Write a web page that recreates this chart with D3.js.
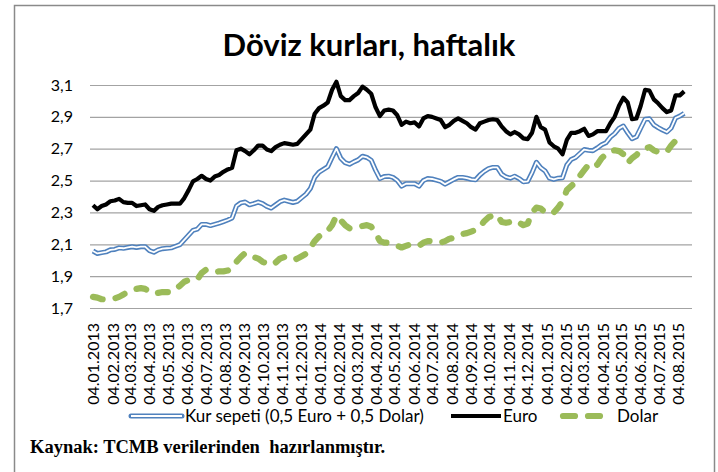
<!DOCTYPE html>
<html>
<head>
<meta charset="utf-8">
<script src="https://cdn.jsdelivr.net/npm/d3@7"></script>
<style>
  body { margin: 0; background: #fff; }
  svg text { font-family: Lato, "Open Sans", sans-serif; fill: #000; }
</style>
</head>
<body>
<script>
// weekly data, 04.01.2013 - 14.08.2015 (Fridays)
const firstWeek = "04.01.2013", lastWeek = "14.08.2015";

const tickLabels = ["04.01.2013", "04.02.2013", "04.03.2013", "04.04.2013", "04.05.2013", "04.06.2013",
  "04.07.2013", "04.08.2013", "04.09.2013", "04.10.2013", "04.11.2013", "04.12.2013",
  "04.01.2014", "04.02.2014", "04.03.2014", "04.04.2014", "04.05.2014", "04.06.2014",
  "04.07.2014", "04.08.2014", "04.09.2014", "04.10.2014", "04.11.2014", "04.12.2014",
  "04.01.2015", "04.02.2015", "04.03.2015", "04.04.2015", "04.05.2015", "04.06.2015",
  "04.07.2015", "04.08.2015"];

const yTicks = [1.7, 1.9, 2.1, 2.3, 2.5, 2.7, 2.9, 3.1];

const euro = [2.345, 2.32, 2.34, 2.35, 2.37, 2.375, 2.385, 2.365, 2.36, 2.36, 2.34, 2.345, 2.35, 2.32, 2.31,
  2.335, 2.345, 2.35, 2.355, 2.355, 2.355, 2.39, 2.44, 2.495, 2.51, 2.53, 2.51, 2.50, 2.525, 2.535,
  2.555, 2.57, 2.58, 2.69, 2.70, 2.685, 2.665, 2.69, 2.72, 2.72, 2.695, 2.685, 2.71, 2.725, 2.735,
  2.73, 2.725, 2.73, 2.76, 2.79, 2.82, 2.92, 2.955, 2.97, 2.99, 3.07, 3.12, 3.03, 3.005, 3.005,
  3.03, 3.05, 3.09, 3.07, 3.045, 2.96, 2.905, 2.94, 2.945, 2.94, 2.91, 2.85, 2.87, 2.86, 2.865,
  2.84, 2.89, 2.905, 2.90, 2.89, 2.88, 2.835, 2.85, 2.875, 2.89, 2.875, 2.86, 2.835, 2.82, 2.86,
  2.87, 2.88, 2.885, 2.88, 2.84, 2.81, 2.79, 2.805, 2.79, 2.765, 2.76, 2.80, 2.90, 2.835, 2.82,
  2.74, 2.715, 2.70, 2.665, 2.755, 2.80, 2.80, 2.81, 2.825, 2.78, 2.79, 2.81, 2.81, 2.81, 2.86,
  2.90, 2.97, 3.02, 2.99, 2.885, 2.89, 2.97, 3.07, 3.065, 3.01, 2.985, 2.955, 2.93, 2.94, 3.035,
  3.035, 3.06];

const dolar = [1.77, 1.765, 1.755, 1.755, 1.76, 1.76, 1.77, 1.785, 1.80, 1.81, 1.82, 1.825, 1.82, 1.80, 1.79,
  1.795, 1.80, 1.80, 1.80, 1.82, 1.84, 1.865, 1.875, 1.88, 1.88, 1.92, 1.94, 1.935, 1.925, 1.93,
  1.93, 1.935, 1.95, 1.99, 2.02, 2.045, 2.03, 2.02, 2.01, 1.99, 1.98, 1.97, 1.985, 2.01, 2.02,
  2.01, 2.00, 2.01, 2.025, 2.04, 2.08, 2.12, 2.15, 2.17, 2.185, 2.22, 2.28, 2.25, 2.22, 2.20,
  2.205, 2.21, 2.215, 2.22, 2.21, 2.17, 2.12, 2.11, 2.11, 2.10, 2.09, 2.08, 2.09, 2.10, 2.095,
  2.09, 2.11, 2.12, 2.12, 2.115, 2.11, 2.12, 2.135, 2.14, 2.15, 2.165, 2.17, 2.18, 2.19, 2.21,
  2.245, 2.27, 2.28, 2.285, 2.24, 2.235, 2.24, 2.25, 2.235, 2.22, 2.23, 2.30, 2.33, 2.325, 2.30,
  2.29, 2.30, 2.33, 2.37, 2.44, 2.465, 2.49, 2.53, 2.565, 2.60, 2.585, 2.60, 2.64, 2.665, 2.685,
  2.69, 2.685, 2.665, 2.61, 2.64, 2.66, 2.69, 2.70, 2.71, 2.69, 2.68, 2.68, 2.68, 2.72, 2.75,
  2.775, 2.785];

// Kur sepeti (0,5 Euro + 0,5 Dolar)
const sepet = [2.0575, 2.0425, 2.0475, 2.0525, 2.065, 2.0675, 2.0775, 2.075, 2.08, 2.085, 2.08, 2.085, 2.085, 2.06, 2.05,
  2.065, 2.0725, 2.075, 2.0775, 2.0875, 2.0975, 2.1275, 2.1575, 2.1875, 2.195, 2.225, 2.225, 2.2175, 2.225, 2.2325,
  2.2425, 2.2525, 2.265, 2.34, 2.36, 2.365, 2.3475, 2.355, 2.365, 2.355, 2.3375, 2.3275, 2.3475, 2.3675, 2.3775,
  2.37, 2.3625, 2.37, 2.3925, 2.415, 2.45, 2.52, 2.5525, 2.57, 2.5875, 2.645, 2.70, 2.64, 2.6125, 2.6025,
  2.6175, 2.63, 2.6525, 2.645, 2.6275, 2.565, 2.5125, 2.525, 2.5275, 2.52, 2.50, 2.465, 2.48, 2.48, 2.48,
  2.465, 2.50, 2.5125, 2.51, 2.5025, 2.495, 2.4775, 2.4925, 2.5075, 2.52, 2.52, 2.515, 2.5075, 2.505, 2.535,
  2.5575, 2.575, 2.5825, 2.5825, 2.54, 2.5225, 2.515, 2.5275, 2.5125, 2.4925, 2.495, 2.55, 2.615, 2.58, 2.56,
  2.515, 2.5075, 2.515, 2.5175, 2.5975, 2.6325, 2.645, 2.67, 2.695, 2.69, 2.6875, 2.705, 2.725, 2.7375, 2.7725,
  2.795, 2.8275, 2.8425, 2.80, 2.7625, 2.775, 2.83, 2.885, 2.8875, 2.85, 2.8325, 2.8175, 2.805, 2.83, 2.8925,
  2.905, 2.9225];

const seriesNames = ["Kur sepeti (0,5 Euro + 0,5 Dolar)", "Euro", "Dolar"];

// layout
const W = 718, H = 472;
const plot = { left: 90, right: 692, top: 85, bottom: 308 };

const parse = d3.timeParse("%d.%m.%Y");
const weeks = d3.timeFriday.range(parse(firstWeek), d3.timeDay.offset(parse(lastWeek), 1));

const svg = d3.select("body").append("svg")
  .attr("width", W)
  .attr("height", H);

// frame
svg.append("rect")
  .attr("x", 14.5).attr("y", 5.5)
  .attr("width", 700).attr("height", 490)
  .attr("fill", "none")
  .attr("stroke", "#8a8a8a")
  .attr("stroke-width", 1.5);

svg.append("text")
  .attr("x", 369).attr("y", 56)
  .attr("text-anchor", "middle")
  .style("font-size", "31px")
  .style("font-weight", "bold")
  .text("Döviz kurları, haftalık");

/* scales */
const x = d3.scaleTime()
  .domain([parse(tickLabels[0]), parse(tickLabels[tickLabels.length - 1])])
  .range([93, 678]);
const y = d3.scaleLinear().domain([1.7, 3.1]).range([plot.bottom, plot.top]);

const tr = d3.formatLocale({ decimal: ",", thousands: ".", grouping: [3], currency: ["", " TL"] });

// y axis + grid
const yAxis = svg.append("g")
  .attr("transform", `translate(${plot.left},0)`)
  .call(d3.axisLeft(y)
    .tickValues(yTicks)
    .tickSize(-(plot.right - plot.left))
    .tickPadding(17)
    .tickFormat(tr.format(".1f")));
yAxis.select(".domain").remove();
yAxis.selectAll(".tick line").attr("stroke", "#a3a3a3").attr("stroke-width", 1.2);
yAxis.selectAll(".tick text").style("font-size", "16px").attr("fill", "#000");

// x axis labels (rotated)
const xAxis = svg.append("g")
  .attr("transform", `translate(0,${plot.bottom})`)
  .call(d3.axisBottom(x)
    .tickValues(tickLabels.map(parse))
    .tickSize(0)
    .tickFormat(d3.timeFormat("%d.%m.%Y")));
xAxis.select(".domain").remove();
xAxis.selectAll(".tick text")
  .attr("transform", "rotate(-90)")
  .attr("text-anchor", "end")
  .attr("x", -15)
  .attr("y", 0)
  .attr("dy", "0.36em")
  .style("font-size", "16px")
  .attr("fill", "#000");

/* lines */
const line = d3.line()
  .x((d, i) => x(weeks[i]))
  .y(d => y(d));

const lines = svg.append("g");
// Kur sepeti: double (compound) line
lines.append("path").datum(sepet)
  .attr("d", line).attr("fill", "none")
  .attr("stroke", "#4f81bd").attr("stroke-width", 5).attr("stroke-linejoin", "round");
lines.append("path").datum(sepet)
  .attr("d", line).attr("fill", "none")
  .attr("stroke", "#fff").attr("stroke-width", 1.8).attr("stroke-linejoin", "round");
lines.append("path").datum(euro)
  .attr("d", line).attr("fill", "none")
  .attr("stroke", "#000").attr("stroke-width", 4.2).attr("stroke-linejoin", "round");
lines.append("path").datum(dolar)
  .attr("d", line).attr("fill", "none")
  .attr("stroke", "#9bbb59").attr("stroke-width", 6.2)
  .attr("stroke-dasharray", "10,13").attr("stroke-linecap", "round").attr("stroke-linejoin", "round");

/* legend */
const LEGEND_Y = 416;
const legend = svg.append("g");
legend.append("line").attr("x1", 131).attr("x2", 182).attr("y1", LEGEND_Y).attr("y2", LEGEND_Y)
  .attr("stroke", "#4f81bd").attr("stroke-width", 5).attr("stroke-linecap", "round");
legend.append("line").attr("x1", 131).attr("x2", 182).attr("y1", LEGEND_Y).attr("y2", LEGEND_Y)
  .attr("stroke", "#fff").attr("stroke-width", 1.8);
legend.append("line").attr("x1", 451).attr("x2", 501).attr("y1", LEGEND_Y).attr("y2", LEGEND_Y)
  .attr("stroke", "#000").attr("stroke-width", 4.2);
legend.append("line").attr("x1", 563).attr("x2", 605).attr("y1", LEGEND_Y).attr("y2", LEGEND_Y)
  .attr("stroke", "#9bbb59").attr("stroke-width", 6.2)
  .attr("stroke-dasharray", "12,13").attr("stroke-linecap", "round");

legend.selectAll("text.lg")
  .data(seriesNames)
  .enter().append("text")
  .attr("class", "lg")
  .attr("x", (d, i) => [185, 503, 617][i])
  .attr("y", LEGEND_Y)
  .attr("dy", "0.35em")
  .style("font-size", "17px")
  .text(d => d);

// source note
svg.append("text")
  .attr("x", 30).attr("y", 453)
  .style("font-family", "'Liberation Serif', 'Times New Roman', serif")
  .style("font-weight", "bold")
  .style("font-size", "18.5px")
  .attr("xml:space", "preserve")
  .text("Kaynak: TCMB verilerinden  hazırlanmıştır.");
</script>
</body>
</html>
